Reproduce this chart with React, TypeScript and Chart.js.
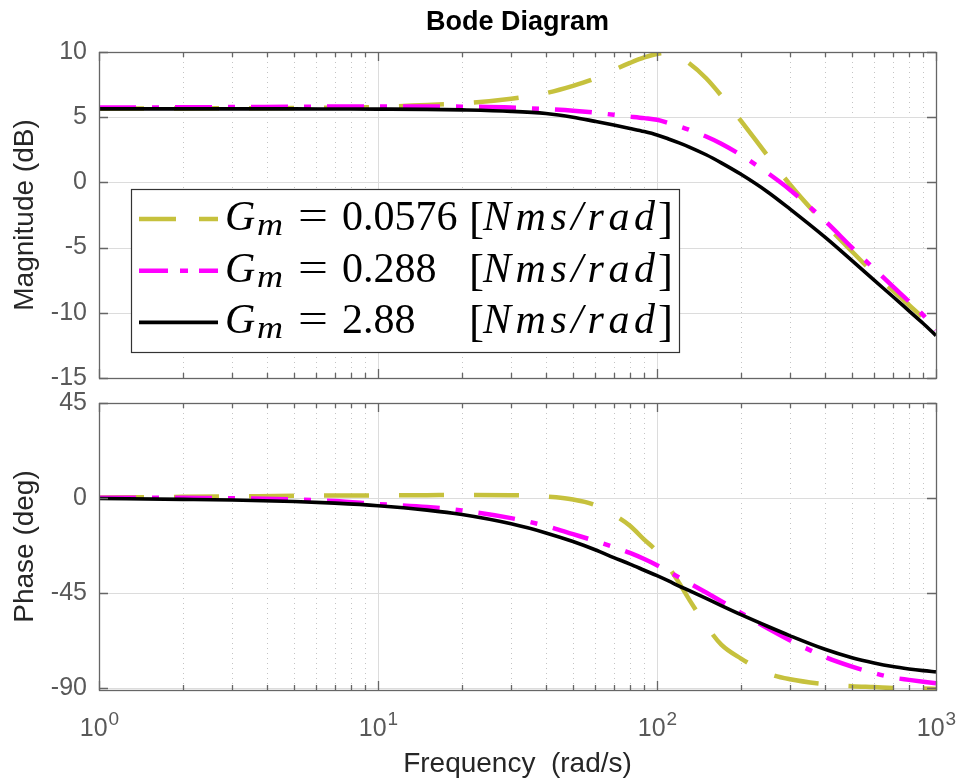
import React, { useEffect, useRef } from 'react';
import { Chart, registerables } from 'chart.js';

Chart.register(...registerables);

// ---------------- data ----------------
const frequencies = [1, 2, 3, 5, 7, 10, 15, 20, 30, 40, 50, 60, 70, 80, 90, 100, 110, 120, 130, 150, 170, 200, 250, 300, 400, 500, 600, 700, 800, 900, 1000];

const magGm0576 = [5.66, 5.67, 5.68, 5.7, 5.73, 5.78, 5.94, 6.06, 6.42, 6.85, 7.4, 7.97, 8.62, 9.16, 9.58, 9.85, 9.92, 9.6, 9.16, 7.99, 6.65, 4.72, 2.0, -0.18, -3.17, -5.3, -7.0, -8.3, -9.4, -10.4, -11.45];
const magGm0288 = [5.74, 5.76, 5.78, 5.8, 5.82, 5.83, 5.83, 5.81, 5.74, 5.62, 5.5, 5.35, 5.18, 5.05, 4.93, 4.8, 4.55, 4.3, 4.04, 3.52, 2.97, 2.1, 0.7, -0.58, -2.95, -5.0, -6.62, -7.98, -9.12, -10.18, -11.3];
const magGm288 = [5.64, 5.64, 5.64, 5.64, 5.63, 5.62, 5.6, 5.56, 5.45, 5.28, 5.0, 4.68, 4.4, 4.14, 3.9, 3.64, 3.33, 3.03, 2.73, 2.12, 1.5, 0.62, -0.75, -2.05, -4.2, -6.0, -7.5, -8.75, -9.85, -10.82, -11.75];

const phaseGm0576 = [0.2, 0.5, 0.7, 1.0, 1.1, 1.2, 1.3, 1.4, 1.3, 0.6, -0.8, -3.4, -8.0, -13.2, -19.8, -25.4, -32.8, -40.3, -47.9, -60.5, -69.6, -76.2, -83.2, -86.0, -88.3, -89.3, -89.7, -90.1, -90.3, -90.4, -90.6];
const phaseGm0288 = [0.1, 0.1, -0.2, -0.7, -1.5, -2.9, -4.3, -6.0, -9.6, -13.3, -17.2, -20.4, -23.3, -26.1, -29.0, -31.9, -34.9, -37.7, -40.3, -44.9, -49.0, -54.5, -62.0, -67.6, -75.4, -80.0, -83.1, -85.2, -86.3, -87.2, -87.9];
const phaseGm288 = [-0.3, -0.7, -1.0, -1.7, -2.5, -3.7, -5.8, -7.9, -12.3, -16.6, -20.7, -24.6, -28.3, -31.4, -34.3, -36.9, -39.4, -41.8, -43.9, -47.7, -51.1, -55.4, -61.0, -65.4, -71.8, -75.8, -78.3, -80.0, -81.1, -81.9, -82.5];

const legendValues = ['0.0576', '0.288', '2.88'];
const legendUnit = 'Nms/rad';

const magTicks = [-15, -10, -5, 0, 5, 10];
const phaseTicks = [-90, -45, 0, 45];
const xDecades = [1, 10, 100, 1000];
const xExponents = ['0', '1', '2', '3'];

const titleText = 'Bode Diagram';
const magLabel = 'Magnitude (dB)';
const phaseLabel = 'Phase (deg)';
const freqLabel = 'Frequency  (rad/s)';

// ---------------- styles ----------------
const YELLOW = '#c6c13d';
const MAGENTA = '#ff00ff';
const BLACK = '#000000';
const SANS = '"Liberation Sans", Arial, sans-serif';
const SERIF = '"Liberation Serif", "Times New Roman", serif';

const seriesStyles = [
  { color: YELLOW, width: 4.5, dash: [45, 30], legendDash: [37, 23] },
  { color: MAGENTA, width: 4.5, dash: [37, 16, 7, 16], legendDash: [29, 12, 8, 11] },
  { color: BLACK, width: 3.6, dash: [] as number[], legendDash: [] as number[] },
];

const minorX: number[] = [];
for (const d of [1, 10, 100]) for (let k = 2; k <= 9; k++) minorX.push(k * d);

function makeGridPlugin(yTicks: number[]) {
  return {
    id: 'matlabGrid',
    beforeDatasetsDraw(chart: any) {
      const { ctx, chartArea: a, scales } = chart;
      const x = scales.x;
      const y = scales.y;
      ctx.save();
      ctx.lineWidth = 1;
      ctx.strokeStyle = '#c4c4c4';
      ctx.setLineDash([1, 4]);
      for (const v of minorX) {
        const px = Math.round(x.getPixelForValue(v)) + 0.5;
        ctx.beginPath();
        ctx.moveTo(px, a.top);
        ctx.lineTo(px, a.bottom);
        ctx.stroke();
      }
      ctx.setLineDash([]);
      ctx.strokeStyle = '#dcdcdc';
      for (const v of xDecades) {
        const px = Math.round(x.getPixelForValue(v)) + 0.5;
        ctx.beginPath();
        ctx.moveTo(px, a.top);
        ctx.lineTo(px, a.bottom);
        ctx.stroke();
      }
      for (const v of yTicks) {
        const py = Math.round(y.getPixelForValue(v)) + 0.5;
        ctx.beginPath();
        ctx.moveTo(a.left, py);
        ctx.lineTo(a.right, py);
        ctx.stroke();
      }
      ctx.restore();
    },
    afterDatasetsDraw(chart: any) {
      const { ctx, chartArea: a, scales } = chart;
      const x = scales.x;
      const y = scales.y;
      ctx.save();
      ctx.strokeStyle = '#666666';
      ctx.lineWidth = 1.3;
      ctx.setLineDash([]);
      ctx.strokeRect(Math.round(a.left) + 0.5, Math.round(a.top) + 0.5, Math.round(a.width), Math.round(a.height));
      const tick = (px: number, len: number) => {
        ctx.beginPath();
        ctx.moveTo(px, a.bottom);
        ctx.lineTo(px, a.bottom - len);
        ctx.moveTo(px, a.top);
        ctx.lineTo(px, a.top + len);
        ctx.stroke();
      };
      for (const v of minorX) tick(Math.round(x.getPixelForValue(v)) + 0.5, 5);
      for (const v of xDecades) tick(Math.round(x.getPixelForValue(v)) + 0.5, 9);
      for (const v of yTicks) {
        const py = Math.round(y.getPixelForValue(v)) + 0.5;
        ctx.beginPath();
        ctx.moveTo(a.left, py);
        ctx.lineTo(a.left + 9, py);
        ctx.moveTo(a.right, py);
        ctx.lineTo(a.right - 9, py);
        ctx.stroke();
      }
      ctx.restore();
    },
  };
}

function drawYLabel(ctx: CanvasRenderingContext2D, text: string, xBase: number, cy: number) {
  ctx.save();
  ctx.translate(xBase, cy);
  ctx.rotate(-Math.PI / 2);
  ctx.font = `28px ${SANS}`;
  ctx.fillStyle = '#262626';
  ctx.textAlign = 'center';
  ctx.textBaseline = 'alphabetic';
  ctx.fillText(text, 0, 0);
  ctx.restore();
}

function drawSpaced(ctx: CanvasRenderingContext2D, text: string, x: number, baseline: number, width: number) {
  const chars = Array.from(text);
  const widths = chars.map((c) => ctx.measureText(c).width);
  const natural = widths.reduce((s, w) => s + w, 0);
  const extra = chars.length > 1 ? (width - natural) / (chars.length - 1) : 0;
  let cx = x;
  chars.forEach((c, i) => {
    ctx.fillText(c, cx, baseline);
    cx += widths[i] + extra;
  });
}

function drawStretched(ctx: CanvasRenderingContext2D, text: string, x: number, baseline: number, width: number) {
  const w = ctx.measureText(text).width;
  ctx.save();
  ctx.translate(x, baseline);
  ctx.scale(width / w, 1);
  ctx.fillText(text, 0, 0);
  ctx.restore();
}

const topTextPlugin = {
  id: 'topTexts',
  afterDraw(chart: any) {
    const { ctx, chartArea: a } = chart;
    ctx.save();
    ctx.font = `bold 27px ${SANS}`;
    ctx.fillStyle = '#000';
    ctx.textAlign = 'center';
    ctx.textBaseline = 'alphabetic';
    ctx.fillText(titleText, (a.left + a.right) / 2, 30);
    ctx.restore();

    drawYLabel(ctx, magLabel, 33, (a.top + a.bottom) / 2);

    // legend
    ctx.save();
    const bx = 131, by = 189, bw = 548, bh = 163;
    ctx.fillStyle = '#ffffff';
    ctx.fillRect(bx, by, bw, bh);
    ctx.strokeStyle = '#333333';
    ctx.lineWidth = 1.2;
    ctx.strokeRect(bx + 0.5, by + 0.5, bw, bh);
    ctx.textAlign = 'left';
    ctx.textBaseline = 'alphabetic';
    ctx.fillStyle = '#000';
    legendValues.forEach((val, i) => {
      const st = seriesStyles[i];
      const base = 230 + i * 51.7;
      const ly = base - 11;
      ctx.save();
      ctx.strokeStyle = st.color;
      ctx.lineWidth = st.width;
      ctx.setLineDash(st.legendDash);
      ctx.beginPath();
      ctx.moveTo(139, ly);
      ctx.lineTo(218, ly);
      ctx.stroke();
      ctx.restore();

      ctx.font = `italic 42px ${SERIF}`;
      ctx.fillText('G', 225, base);
      ctx.font = `italic 31px ${SERIF}`;
      drawStretched(ctx, 'm', 257, base + 5, 26);
      ctx.font = `42px ${SERIF}`;
      drawStretched(ctx, '=', 298, base - 1, 30);
      ctx.fillText(val, 342, base);
      ctx.font = `45px ${SERIF}`;
      ctx.fillText('[', 469, base + 3);
      ctx.font = `italic 42px ${SERIF}`;
      drawSpaced(ctx, legendUnit, 483, base, 172);
      ctx.font = `45px ${SERIF}`;
      ctx.fillText(']', 658, base + 3);
    });
    ctx.restore();
  },
};

const bottomTextPlugin = {
  id: 'bottomTexts',
  afterDraw(chart: any) {
    const { ctx, chartArea: a, scales } = chart;
    drawYLabel(ctx, phaseLabel, 33, (a.top + a.bottom) / 2);
    ctx.save();
    ctx.fillStyle = '#595959';
    ctx.textBaseline = 'alphabetic';
    ctx.textAlign = 'left';
    xDecades.forEach((v, i) => {
      const px = scales.x.getPixelForValue(v);
      ctx.font = `25px ${SANS}`;
      const wb = ctx.measureText('10').width;
      ctx.font = `19px ${SANS}`;
      const ws = ctx.measureText(xExponents[i]).width;
      const start = px - (wb + ws) / 2;
      ctx.font = `25px ${SANS}`;
      ctx.fillText('10', start, a.bottom + 46);
      ctx.font = `19px ${SANS}`;
      ctx.fillText(xExponents[i], start + wb + 1, a.bottom + 35);
    });
    ctx.font = `28px ${SANS}`;
    ctx.fillStyle = '#262626';
    ctx.textAlign = 'center';
    ctx.fillText(freqLabel, (a.left + a.right) / 2, a.bottom + 82);
    ctx.restore();
  },
};

function buildDatasets(series: number[][]) {
  return series.map((vals, i) => ({
    data: frequencies.map((f, j) => ({ x: f, y: vals[j] })),
    borderColor: seriesStyles[i].color,
    borderWidth: seriesStyles[i].width,
    borderDash: seriesStyles[i].dash,
    borderCapStyle: 'butt' as const,
    pointRadius: 0,
    fill: false,
    cubicInterpolationMode: 'monotone' as const,
    order: 3 - i,
  }));
}

function baseOptions(yMin: number, yMax: number, yTicks: number[], padding: any) {
  return {
    responsive: false,
    animation: false as const,
    layout: { padding },
    plugins: { legend: { display: false }, tooltip: { enabled: false }, title: { display: false } },
    scales: {
      x: { type: 'logarithmic' as const, min: 1, max: 1000, display: false },
      y: {
        type: 'linear' as const,
        min: yMin,
        max: yMax,
        grid: { display: false, drawTicks: false },
        border: { display: false },
        afterBuildTicks: (scale: any) => {
          scale.ticks = yTicks.map((v) => ({ value: v }));
        },
        afterFit: (scale: any) => {
          scale.width = 99;
        },
        ticks: {
          font: { family: SANS, size: 25 },
          color: '#595959',
          padding: 12,
          autoSkip: false,
          maxRotation: 0,
          callback: (v: any) => String(v),
        },
      },
    },
  };
}

export default function App() {
  const topRef = useRef<HTMLCanvasElement | null>(null);
  const botRef = useRef<HTMLCanvasElement | null>(null);

  useEffect(() => {
    document.body.style.margin = '0';
    const top = new Chart(topRef.current as HTMLCanvasElement, {
      type: 'line',
      data: { datasets: buildDatasets([magGm0576, magGm0288, magGm288]) as any },
      options: baseOptions(-15, 10, magTicks, { top: 52, bottom: 42, left: 0, right: 26 }) as any,
      plugins: [makeGridPlugin(magTicks), topTextPlugin],
    });
    const bot = new Chart(botRef.current as HTMLCanvasElement, {
      type: 'line',
      data: { datasets: buildDatasets([phaseGm0576, phaseGm0288, phaseGm288]) as any },
      options: baseOptions(-91.1, 45, phaseTicks, { top: 43, bottom: 94, left: 0, right: 26 }) as any,
      plugins: [makeGridPlugin(phaseTicks), bottomTextPlugin],
    });
    return () => {
      top.destroy();
      bot.destroy();
    };
  }, []);

  return (
    <div style={{ position: 'relative', width: 962, height: 784, background: '#fff' }}>
      <canvas ref={topRef} width={962} height={420} style={{ position: 'absolute', left: 0, top: 0 }} />
      <canvas ref={botRef} width={962} height={424} style={{ position: 'absolute', left: 0, top: 360 }} />
    </div>
  );
}
